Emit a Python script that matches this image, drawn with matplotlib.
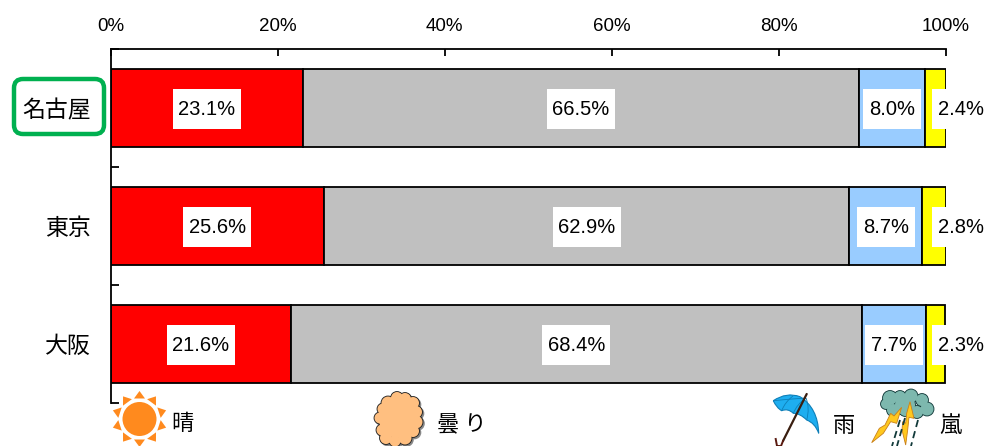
import matplotlib
matplotlib.use("Agg")
import matplotlib.pyplot as plt
import numpy as np
from matplotlib.patches import Circle, FancyBboxPatch, Polygon, PathPatch
from matplotlib.path import Path

CJK = ["Noto Sans CJK JP", "DejaVu Sans"]
LATIN = "Liberation Sans"

cities = ["名古屋", "東京", "大阪"]
sunny = [23.1, 25.6, 21.6]
cloudy = [66.5, 62.9, 68.4]
rainy = [8.0, 8.7, 7.7]
stormy = [2.4, 2.8, 2.3]
series_colors = ["#FF0000", "#C0C0C0", "#99CCFF", "#FFFF00"]
x_ticks = [0, 20, 40, 60, 80, 100]

W, H = 984, 446
fig = plt.figure(figsize=(W / 100, H / 100), dpi=100)
ax = fig.add_axes([110.5 / W, 1 - 403 / H, 835 / W, 354 / H])


def label_box(target_w):
    """Box style with a fixed pixel size, independent of the text extents."""
    def box(x0, y0, w, h, mutation_size):
        cx, cy = x0 + w / 2, y0 + h / 2
        hw, hh = target_w / 2, 20
        verts = [(cx - hw, cy - hh), (cx + hw, cy - hh), (cx + hw, cy + hh),
                 (cx - hw, cy + hh), (cx - hw, cy - hh)]
        return Path(verts, closed=True)
    return box


# Stacked bars with a label box centred in each segment
ypos = np.arange(len(cities))
left = np.zeros(len(cities))
for values, color in zip([sunny, cloudy, rainy, stormy], series_colors):
    ax.barh(ypos, values, left=left, height=0.665, color=color,
            edgecolor="black", linewidth=1.3, zorder=2)
    for y, v, l in zip(ypos, values, left):
        is_last = color == series_colors[-1]
        cx = 101.8 if is_last else l + v / 2
        text = f"{v:.1f}%"
        ax.text(cx, y + 0.01, text, ha="center", va="center", fontsize=14.5,
                family=LATIN, color="black", zorder=5, clip_on=False,
                bbox=dict(boxstyle=label_box(68 if len(text) == 5 else 58), fc="white", ec="none"))
    left += np.array(values)

ax.set_xlim(0, 100)
ax.set_ylim(2.5, -0.5)
ax.xaxis.tick_top()
ax.set_xticks(x_ticks)
ax.set_xticklabels([f"{t}%" for t in x_ticks], fontsize=13.5, family=LATIN)
ax.tick_params(axis="x", direction="in", length=5, width=1.3, pad=10)
ax.set_yticks(ypos)
ax.set_yticklabels(cities, fontsize=16.5, family=CJK)
ax.tick_params(axis="y", which="major", length=0, pad=14)
ax.set_yticks([-0.5, 0.5, 1.5, 2.5], minor=True)
ax.tick_params(axis="y", which="minor", direction="in", length=6, width=1.3)
for side in ("right", "bottom"):
    ax.spines[side].set_visible(False)
for side in ("top", "left"):
    ax.spines[side].set_linewidth(1.3)

# Overlay in pixel units for the highlight box and the weather legend icons
ov = fig.add_axes([0, 0, 1, 1], facecolor="none")
ov.set_xlim(0, W)
ov.set_ylim(H, 0)
ov.axis("off")

ov.add_patch(FancyBboxPatch((20, 85), 78, 43, boxstyle="round,pad=6,rounding_size=9",
                            fc="none", ec="#00B050", lw=3.2))

# Sun
sun_c = np.array([139.5, 419.0])
ov.add_patch(Circle(sun_c, 17, fc="#FF8A1E", ec="none"))
for a in np.deg2rad(np.arange(90, 450, 36)):
    d = np.array([np.cos(a), -np.sin(a)])
    n = np.array([-d[1], d[0]])
    ov.add_patch(Polygon([sun_c + d * 28, sun_c + d * 20.5 + n * 5.5, sun_c + d * 20.5 - n * 5.5],
                         fc="#FF8A1E", ec="none"))


def puffy(centers, fill, edge, shadow=None):
    """Draw a cloud as overlapping discs: shadow, then outline, then fill."""
    if shadow:
        for x, y, r in centers:
            ov.add_patch(Circle((x + 1.5, y + 1.5), r + 0.8, fc=shadow, ec="none"))
    for x, y, r in centers:
        ov.add_patch(Circle((x, y), r + 0.9, fc=edge, ec="none"))
    for x, y, r in centers:
        ov.add_patch(Circle((x, y), r, fc=fill, ec="none"))


# Overcast cloud
puffy([(398, 419, 19), (388, 403, 6.5), (397, 398, 6), (405, 399, 6), (413, 403, 6),
       (416, 412, 6), (416, 422, 6.5), (413, 431, 6), (405, 438, 6.5), (395, 441, 5.5),
       (386, 438, 6), (382, 430, 5.5), (380, 418, 5.5), (383, 409, 5.5)],
      "#FFBF80", "#222222", shadow="#888888")

# Umbrella: shaft and hook first, then the canopy over them
UMB_BLUE, UMB_EDGE = "#1EAEF0", "#0E7FB8"
ov.plot([806.7, 783], [394, 441], color="#3A1E10", lw=1.6, solid_capstyle="round")
ov.plot([783, 781, 777, 775.7], [441, 446, 446, 439], color="#5A1A10", lw=1.4)
canopy_verts = [(773.3, 400.7), (786.7, 391.7), (800, 396.7), (818, 408), (818.7, 433.3),
                (815, 423), (806.7, 420), (800, 413.3), (793.3, 413.3), (788, 408),
                (781.7, 410.7), (776.7, 408), (773.3, 400.7)]
canopy_codes = [Path.MOVETO] + [Path.CURVE3] * 12
ov.add_patch(PathPatch(Path(canopy_verts, canopy_codes), fc=UMB_BLUE, ec=UMB_EDGE, lw=0.8))
for rib in ([(773.3, 400.7), (790, 399), (806, 398)],
            [(793.3, 413.3), (797, 404), (806, 398)],
            [(806.7, 420), (810, 408), (806, 398)],
            [(781.7, 410.7), (785, 402), (793, 396)]):
    ov.add_patch(PathPatch(Path(rib, [Path.MOVETO, Path.CURVE3, Path.CURVE3]),
                           fc="none", ec=UMB_EDGE, lw=0.6))

# Storm cloud with rain and lightning
puffy([(905, 405, 10), (890, 398, 7), (900, 397, 6), (911, 396, 6.5), (922, 400, 6),
       (927, 409, 6.5), (917, 412, 6), (905, 411, 5), (893, 410, 6), (886, 404, 5)],
      "#7DB8AE", "#123A3A")
for x0, y0, x1, y1 in [(900, 420, 892, 446), (905, 418, 897, 446), (918, 420, 911, 446)]:
    ov.plot([x0, x1], [y0, y1], color="#123A3A", lw=1.3, linestyle=(0, (4, 2.4)))


def zoomed(points):
    """Convert icon outline points drawn on a 3x grid to figure pixels."""
    return [(x / 3 + 740, y / 3 + 380) for x, y in points]


for pts in ([(485, 82), (470, 130), (452, 125), (430, 160), (395, 188), (418, 145),
             (435, 135), (452, 100), (462, 108)],
            [(510, 65), (522, 115), (507, 112), (503, 150), (497, 195), (486, 150),
             (488, 125), (497, 130), (500, 100)]):
    ov.add_patch(Polygon(zoomed(pts), fc="#FFC81E", ec="#C9801A", lw=0.6))

for label, x, y in [("晴", 182, 423), ("曇 り", 462, 425), ("雨", 843.5, 426), ("嵐", 950.5, 425)]:
    ov.text(x, y, label, ha="center", va="center", fontsize=16, family=CJK)

fig.savefig("out.png", dpi=100)
